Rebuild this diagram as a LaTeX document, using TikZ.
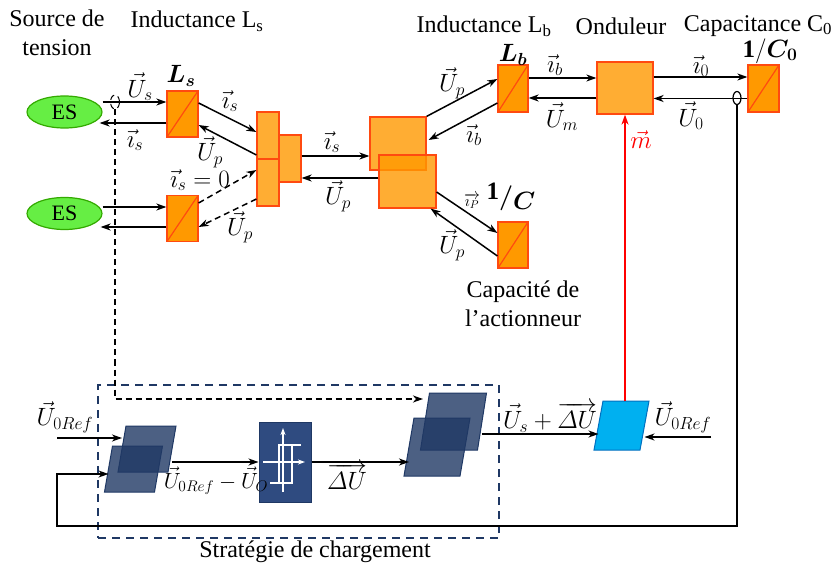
\RequirePackage{fix-cm}
\documentclass[tikz,border=0pt]{standalone}
\usepackage{amsmath}
\usepackage{fontspec}
\setmainfont{Liberation Serif}
\usepackage{bm}
\usetikzlibrary{arrows.meta,shapes.geometric,calc}
\definecolor{eorange}{HTML}{FF9900}
\definecolor{eborder}{HTML}{FF4A10}
\definecolor{esgreen}{HTML}{66EE44}
\definecolor{esborder}{HTML}{33AA00}
\definecolor{mynavy}{HTML}{1F3864}
\definecolor{hystc}{HTML}{2F4B80}
\definecolor{cyanb}{HTML}{00B0F0}
\definecolor{cyanbord}{HTML}{0070C0}
% parallelogram drawn on the frame of an (invisible) node: #1 node, #2 half slant, #3 style
\newcommand{\mypgram}[3]{\path[#3] ($(#1.north west)+(#2,0)$) -- ($(#1.north east)+(#2,0)$) -- ($(#1.south east)+(-#2,0)$) -- ($(#1.south west)+(-#2,0)$) -- cycle;}
\begin{document}
\begin{tikzpicture}[x=1pt,y=-1pt,
 txt/.style={font=\fontsize{24}{29}\selectfont, inner sep=0pt, align=center},
 lab/.style={font=\fontsize{25}{29}\selectfont, inner sep=0pt},
 arr/.style={line width=1.5pt, -{Stealth[length=10pt,width=7pt,inset=3pt]}},
 dsh/.style={dash pattern=on 6pt off 4pt},
 es/.style={ellipse, draw=esborder, fill=esgreen, line width=1.2pt, minimum width=75pt, minimum height=32pt, inner sep=0pt, font=\fontsize{22}{26}\selectfont},
 ebox/.style={draw=eborder, fill=eorange, line width=1.2pt, inner sep=0pt, minimum width=31pt, minimum height=46pt,
   path picture={\draw[eborder, line width=1.2pt] (path picture bounding box.south west) -- (path picture bounding box.north east);}},
 lbox/.style={draw=eborder, fill=eorange, fill opacity=0.8, line width=1.2pt, inner sep=0pt},
 frame/.style={draw=none, inner sep=0pt, outer sep=0pt},
 dpar/.style={draw=mynavy, line width=1pt, fill=mynavy, fill opacity=0.8},
 bpar/.style={draw=cyanbord, line width=1pt, fill=cyanb},
 hline/.style={white, line width=1.3pt},
 harr/.style={white, line width=1.3pt, -{Stealth[length=7pt,width=5pt,inset=2pt]}}
]
\useasboundingbox (0,0) rectangle (836,572);

% ---------- titles ----------
\node[txt] (tsrc) at (57,33) {Source de\\tension};
\node[txt] (tls) at (197,21) {Inductance L\textsubscript{s}};
\node[txt] (tlb) at (484,26) {Inductance L\textsubscript{b}};
\node[txt] (tond) at (621,26) {Onduleur};
\node[txt] (tc0) at (758,26) {Capacitance C\textsubscript{0}};
\node[txt] (tcap) at (523,304) {Capacité de\\l’actionneur};
\node[txt] (tstr) at (315,552) {Stratégie de chargement};

% ---------- power part ----------
\node[es] (es1) at (64.5,112) {ES};
\node[es] (es2) at (64.5,213.5) {ES};
\node[ebox] (ls1) at (182.5,114) {};
\node[ebox] (ls2) at (182.5,218.5) {};
\node[lbox, minimum width=22pt, minimum height=47pt] (cc) at (290,158.5) {};
\node[lbox, minimum width=22pt, minimum height=47pt] (ca) at (268,135.5) {};
\node[lbox, minimum width=22pt, minimum height=47pt] (cb) at (268,182.5) {};
\node[lbox, minimum width=56pt, minimum height=53pt] (A) at (398,143.5) {};
\node[lbox, minimum width=57pt, minimum height=53pt] (B) at (407.5,181.5) {};
\node[ebox, minimum width=30pt, minimum height=47pt] (lb) at (513,88.5) {};
\node[lbox, minimum width=56pt, minimum height=52pt] (ond) at (625,88) {};
\node[ebox, minimum height=47pt] (c0) at (763.5,88.5) {};
\node[ebox, minimum width=30pt] (cp) at (513,245) {};

\node[lab] (lLs) at (181,76) {$\bm{L_s}$};
\node[lab] (lLb) at (513,55) {$\bm{L_b}$};
\node[lab] (lC0) at (770,51) {$\mathbf{1}/\bm{C_0}$};
\node[lab] (lC) at (511,197) {\raisebox{5pt}{$\mathbf{1}$}$\bm{/}$\raisebox{-5pt}{$\bm{C}$}};

% ES1 <-> Ls1
\coordinate (e1a) at ([yshift=10pt]es1.east);
\coordinate (e1b) at ([yshift=-9pt]ls1.west);
\draw[arr] (e1a) -- (e1a -| ls1.west);
\draw[arr] (e1b) -- ([xshift=-3pt]e1b -| es1.east);
% ES2 <-> Ls2
\coordinate (e2a) at ([yshift=6.5pt]es2.east);
\coordinate (e2b) at ([yshift=-13.5pt]es2.east);
\draw[arr] (e2a) -- (e2a -| ls2.west);
\draw[arr] (e2b -| ls2.west) -- ([xshift=-2pt]e2b);
% Ls1 <-> coupling
\draw[arr] ([yshift=11pt]ls1.east) -- ([yshift=3.5pt]ca.west);
\draw[arr] ([yshift=-19.5pt]ca.west) -- ([yshift=-11pt]ls1.east);
% Ls2 <-> coupling (dashed)
\draw[arr,dsh] ([yshift=15.5pt]ls2.east) -- ([yshift=12.5pt]cb.west);
\draw[arr,dsh] ([yshift=-16.5pt]cb.west) -- ([yshift=-8.5pt]ls2.east);
% coupling <-> A/B
\coordinate (ccA) at ([yshift=2.5pt]cc.east);
\coordinate (Bcc) at ([yshift=3.5pt]B.west);
\draw[arr] (ccA) -- (ccA -| A.west);
\draw[arr] (Bcc) -- (Bcc -| cc.east);
% A <-> Lb
\draw[arr] (A.north east) -- ([yshift=9.5pt]lb.west);
\draw[arr] ([yshift=-14.5pt]lb.west) -- ([xshift=2pt,yshift=3.5pt]A.east);
% Lb <-> Onduleur
\coordinate (lbo) at ([yshift=10.5pt]lb.east);
\coordinate (olb) at ([yshift=-10pt]ond.west);
\draw[arr] (lbo) -- (lbo -| ond.west);
\draw[arr] (olb) -- (olb -| lb.east);
% Onduleur <-> C0
\coordinate (oc) at ([yshift=11pt]ond.east);
\coordinate (co) at ([yshift=-10pt]c0.west);
\draw[arr] (oc) -- (oc -| c0.west);
\draw[arr] (co) -- (co -| ond.east);
\node[draw, ellipse, line width=1.2pt, minimum width=8pt, minimum height=13pt, inner sep=0pt] (m0) at (737,98) {};
% B <-> actuator capacitance
\draw[arr] ([yshift=-10.5pt]B.east) -- ([yshift=12pt]cp.west);
\draw[arr] ([yshift=-11pt]cp.west) -- ([xshift=-6pt]B.south east);

% labels power part
\node[lab] at (140,87) {$\vec{U}_s$};
\node[lab] at (135,140) {$\vec{\imath}_s$};
\node[lab] at (230,101) {$\vec{\imath}_s$};
\node[lab] at (210,152) {$\vec{U}_p$};
\node[lab] at (200,180) {$\vec{\imath}_s=0$};
\node[lab] at (240,227) {$\vec{U}_p$};
\node[lab] at (332,142) {$\vec{\imath}_s$};
\node[lab] at (338,196) {$\vec{U}_p$};
\node[lab] at (452,83) {$\vec{U}_p$};
\node[lab] at (474,135) {$\vec{\imath}_b$};
\node[lab] at (555,65) {$\vec{\imath}_b$};
\node[lab] at (562,117) {$\vec{U}_m$};
\node[lab] at (701,66) {$\vec{\imath}_0$};
\node[lab] at (691,116) {$\vec{U}_0$};
\node[lab, text=red] at (641,140) {$\vec{m}$};
\node[font=\fontsize{16}{19}\selectfont, inner sep=0pt] at (472,201) {$\overrightarrow{\imath_P}$};
\node[lab] at (452,245) {$\vec{U}_p$};

% ---------- control part ----------
\node[draw=mynavy, line width=1.5pt, dash pattern=on 8pt off 6pt, minimum width=401pt, minimum height=153pt, inner sep=0pt] (strat) at (298.5,461.5) {};
\node[frame, minimum width=50pt, minimum height=46pt] (p1a) at (147,449) {};
\node[frame, minimum width=50pt, minimum height=46pt] (p1b) at (133.5,469) {};
\node[frame, minimum width=57pt, minimum height=57pt] (p3a) at (453.5,421.5) {};
\node[frame, minimum width=56pt, minimum height=58pt] (p3b) at (437,447) {};
\node[frame, minimum width=46pt, minimum height=49pt] (pb) at (621.5,425.5) {};
\mypgram{p1a}{4}{dpar}
\mypgram{p1b}{4}{dpar}
\mypgram{p3a}{4.5}{dpar}
\mypgram{p3b}{5}{dpar}
\mypgram{pb}{4.5}{bpar}
\node[draw=mynavy, fill=hystc, line width=1pt, minimum width=52pt, minimum height=80pt, inner sep=0pt] (hy) at (285,462) {};

% hysteresis symbol
\draw[harr] ($(hy)+(-2,30)$) -- ($(hy)+(-2,-34)$);
\draw[harr] ($(hy)+(-22,0)$) -- ($(hy)+(20,0)$);
\draw[hline] ($(hy)+(16,-17)$) -- ($(hy)+(-6,-17)$) -- ($(hy)+(-6,21)$);
\draw[hline] ($(hy)+(-15,21)$) -- ($(hy)+(7,21)$) -- ($(hy)+(7,-17)$);

% measurement (dashed) from source current
\node[draw, dsh, ellipse, line width=1pt, minimum width=9pt, minimum height=14pt, inner sep=0pt] (ms) at (115,102) {};
\coordinate (dc) at (115,399);
\draw[arr,dsh] (ms.south) -- (dc) -- ([xshift=-2pt]dc -| p3a.west);

% control connections
\coordinate (u0l) at (57,438);
\draw[arr] (u0l) -- (u0l -| p1a.west);
\coordinate (fbB) at (57,526);
\coordinate (fbC) at (57,474);
\draw[arr] (m0.south) -- (m0.south |- fbB) -- (fbB) -- (fbC) -- (fbC -| p1b.west);
\draw[arr] (hy.west -| p1a.east) -- (hy.west);
\draw[arr] (hy.east) -- (hy.east -| p3b.west);
\coordinate (pbin) at ([yshift=-8.5pt]pb.west);
\draw[arr] (pbin -| p3a.east) -- (pbin);
\coordinate (u0r) at (711,437);
\draw[arr] (u0r) -- (u0r -| pb.east);
\draw[arr, red] (pb.north -| ond.south) -- (ond.south);

% labels control part
\node[lab] at (65,417) {$\vec{U}_{0Ref}$};
\node[font=\fontsize{22}{26}\selectfont, inner sep=0pt] at (216,481) {$\vec{U}_{0Ref}-\vec{U}_{O}$};
\node[lab] at (347,476) {$\overrightarrow{\varDelta U}$};
\node[lab] at (550,417) {$\vec{U}_s+\overrightarrow{\varDelta U}$};
\node[lab] at (683,417) {$\vec{U}_{0Ref}$};
\end{tikzpicture}
\end{document}
